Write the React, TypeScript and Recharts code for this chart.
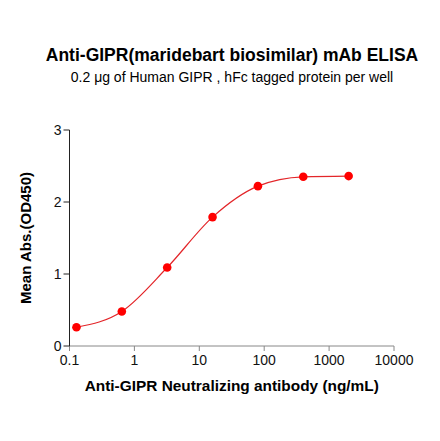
import { CartesianGrid, Line, LineChart, XAxis, YAxis } from "recharts";

// 5-fold dilution series, ng/mL
const concentrations = [0.128, 0.64, 3.2, 16, 80, 400, 2000];
const meanAbs = [0.26, 0.48, 1.09, 1.79, 2.22, 2.35, 2.36];
const xTicks = [0.1, 1, 10, 100, 1000, 10000];
const yTicks = [0, 1, 2, 3];

const rows = concentrations.map((c, i) => ({ conc: c, od: meanAbs[i] }));

const font = "'Liberation Sans', Arial, sans-serif";

export default function App() {
  return (
    <div
      style={{
        position: "absolute",
        left: 0,
        top: 0,
        width: 440,
        height: 441,
        background: "#fff",
        fontFamily: font,
      }}
    >
      <div
        style={{
          position: "absolute",
          top: 45,
          width: 440,
          left: 12,
          textAlign: "center",
          fontWeight: "bold",
          fontSize: 17.5,
          color: "#000",
        }}
      >
        Anti-GIPR(maridebart biosimilar) mAb ELISA
      </div>
      <div
        style={{
          position: "absolute",
          top: 69,
          width: 440,
          left: 12,
          textAlign: "center",
          fontSize: 14,
          color: "#000",
        }}
      >
        0.2 {"\u03bcg"} of Human GIPR , hFc tagged protein per well
      </div>
      <LineChart
        width={440}
        height={441}
        data={rows}
        margin={{ top: 130, right: 46, bottom: 65, left: 29.5 }}
      >
        <CartesianGrid stroke="none" />
        <XAxis
          dataKey="conc"
          type="number"
          scale="log"
          domain={[0.1, 10000]}
          ticks={xTicks}
          allowDataOverflow
          height={30}
          tickSize={5}
          tickMargin={4}
          stroke="#888"
          tick={{ fill: "#111", fontSize: 14, fontFamily: font }}
          tickFormatter={(v: number) => String(v)}
          label={{
            value: "Anti-GIPR Neutralizing antibody (ng/mL)",
            position: "insideBottom",
            offset: -15,
            style: { fontWeight: "bold", fontSize: 15.4, fill: "#000", fontFamily: font },
          }}
        />
        <YAxis
          type="number"
          domain={[0, 3]}
          ticks={yTicks}
          width={40}
          tickSize={6}
          tickMargin={2}
          stroke="#222"
          tick={{ fill: "#111", fontSize: 14, fontFamily: font }}
          label={{
            value: "Mean Abs.(OD450)",
            angle: -90,
            position: "insideLeft",
            offset: -4,
            style: {
              fontWeight: "bold",
              fontSize: 15,
              fill: "#000",
              fontFamily: font,
              textAnchor: "middle",
            },
          }}
        />
        <Line
          dataKey="od"
          type="monotone"
          stroke="#e3262a"
          strokeWidth={1.2}
          dot={{ r: 4.3, fill: "#f00", stroke: "#f00", strokeWidth: 0 }}
          isAnimationActive={false}
        />
      </LineChart>
    </div>
  );
}
